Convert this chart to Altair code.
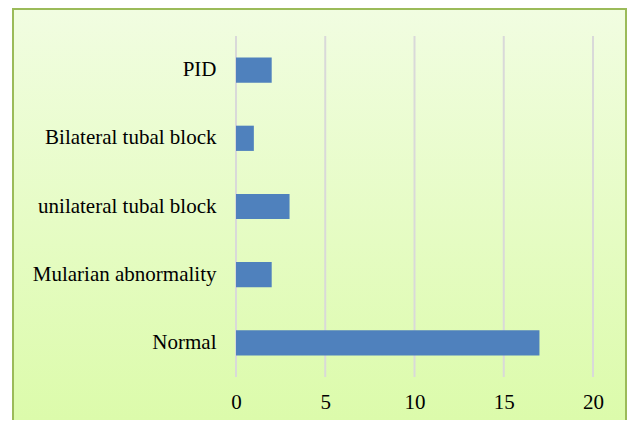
import altair as alt
import pandas as pd

categories = ["PID", "Bilateral tubal block", "unilateral tubal block", "Mularian abnormality", "Normal"]
values = [2, 1, 3, 2, 17]
x_ticks = [0, 5, 10, 15, 20]

df = pd.DataFrame({"category": categories, "value": values})
ticks_df = pd.DataFrame({"t": x_ticks})

W, H = 357, 341
PAD_L, PAD_T, PAD_R, PAD_B = 228, 28, 34, 43

grad = alt.Gradient(
    gradient="linear", x1=0, x2=0, y1=0, y2=1,
    stops=[alt.GradientStop(color="#F1FDE1", offset=0),
           alt.GradientStop(color="#DAFBA6", offset=1)],
)

xscale = alt.Scale(domain=[0, 20], nice=False)
xaxis = alt.Axis(values=x_ticks, title=None, grid=False, zindex=1,
                 domain=False, ticks=False, labelPadding=14, labelFlush=False,
                 labelFont="Liberation Serif", labelFontSize=21, labelColor="#000000")

bg = alt.Chart(pd.DataFrame({"a": [0]})).mark_rect(
    fill=grad, stroke="#9BBB59", strokeWidth=2
).encode(
    x=alt.value(-223), x2=alt.value(390),
    y=alt.value(-27), y2=alt.value(H + 80),
)

grid = alt.Chart(ticks_df).mark_rule(color="#D9D9D9", strokeWidth=2).encode(
    x=alt.X("t:Q", scale=xscale, axis=xaxis),
    y=alt.value(0), y2=alt.value(H),
)

bars = alt.Chart(df).mark_bar(color="#4F81BD").encode(
    x=alt.X("value:Q", scale=xscale, axis=xaxis),
    y=alt.Y("category:N", sort=categories,
            scale=alt.Scale(paddingInner=0.63, paddingOuter=0.315),
            axis=alt.Axis(title=None, domain=False, ticks=False, grid=False, labelPadding=20, zindex=1,
                          labelFont="Liberation Serif", labelFontSize=21, labelColor="#000000",
                          labelLimit=300)),
)

chart = alt.layer(bg, grid, bars).properties(
    width=W, height=H,
    autosize=alt.AutoSizeParams(type="none"),
    padding={"left": PAD_L, "top": PAD_T, "right": PAD_R, "bottom": PAD_B},
).configure_view(stroke=None).configure(background="white")

chart.save("out.html", embed_options={"renderer": "svg", "actions": False})
